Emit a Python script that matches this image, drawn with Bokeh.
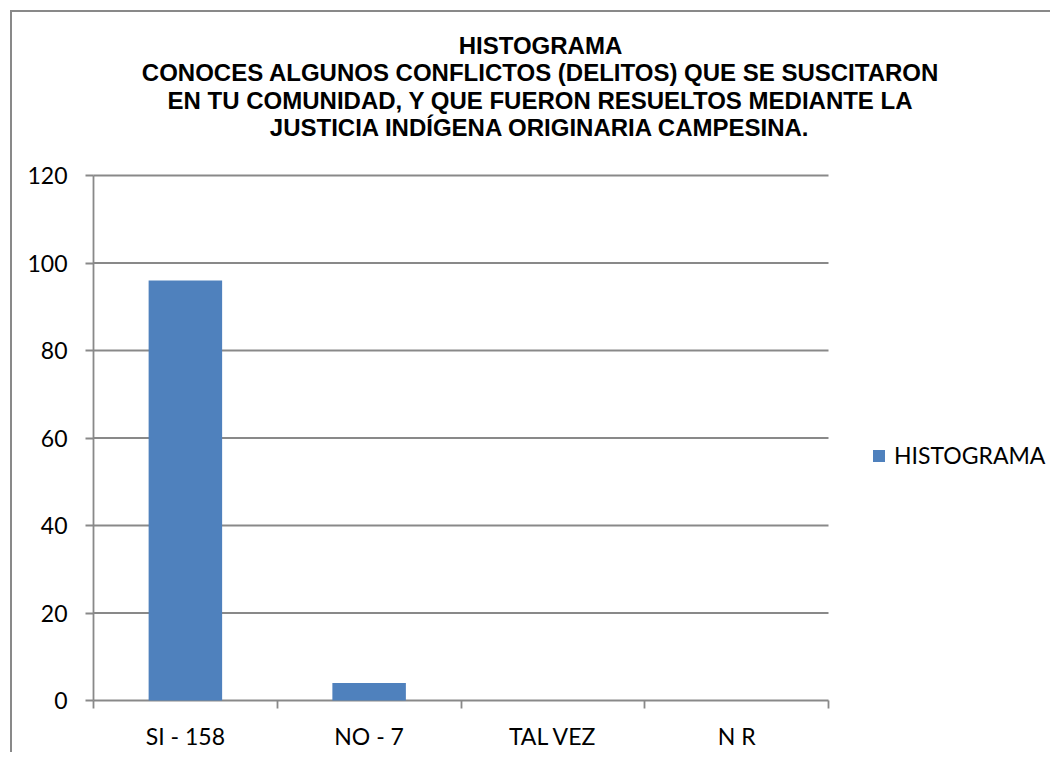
from bokeh.plotting import figure
from bokeh.models import (Range1d, FixedTicker, Legend, LegendItem, Label,
                          ColumnDataSource)
from bokeh.embed import file_html
from bokeh.resources import INLINE

# ---- data ----
categories = ["SI - 158", "NO - 7", "TAL VEZ", "N R"]
values = [96, 4, 0, 0]
series_name = "HISTOGRAMA"
y_ticks = [0, 20, 40, 60, 80, 100, 120]
title_lines = [
    "HISTOGRAMA",
    "CONOCES ALGUNOS CONFLICTOS (DELITOS) QUE SE SUSCITARON",
    "EN TU COMUNIDAD, Y QUE FUERON RESUELTOS MEDIANTE LA",
    "JUSTICIA INDÍGENA ORIGINARIA CAMPESINA.",
]

GRAY = "#898989"
BLUE = "#4F81BD"
LABEL_FONT = "Lato"
LABEL_PX = "23px"
TITLE_PX = "24px"
LW = 1.8

n = len(categories)
ymax = max(y_ticks)
centers = [i + 0.5 for i in range(n)]
source = ColumnDataSource(dict(x=centers, top=values, cat=categories))

# canvas geometry (pixels) -- plot area of the chart spans 93..828 x 175..700
W, H = 1050, 752
PA_L, PA_R, PA_T, PA_B = 93, 828, 175, 700
FL, FB = 88, 705                     # drawing frame (left, bottom)
ppx = (PA_R - PA_L) / n              # px per category
ppy = (PA_B - PA_T) / ymax           # px per unit
x0 = -(PA_L - FL) / ppx
y0 = -(FB - PA_B) / ppy
x1 = x0 + (W - FL) / ppx
y1 = y0 + FB / ppy

def xd(px):
    return x0 + (px - FL) / ppx

def yd(py):
    return y0 + (FB - py) / ppy

p = figure(width=W, height=H, output_backend="svg", toolbar_location=None,
           x_range=Range1d(x0, x1), y_range=Range1d(y0, y1),
           min_border_left=FL, min_border_right=0, min_border_top=0,
           min_border_bottom=H - FB)
p.outline_line_color = None
p.background_fill_color = None
p.border_fill_color = None
p.styles = {
    "background-color": "white",
    "background-image": "linear-gradient(#898989,#898989), linear-gradient(#898989,#898989)",
    "background-position": "10px 10px, 10px 10px",
    "background-size": "2px 3000px, 3000px 2px",
    "background-repeat": "no-repeat, no-repeat",
}

# horizontal grid lines (incl. the category axis line at 0) and value axis line
p.segment(x0=[0] * len(y_ticks), x1=[n] * len(y_ticks), y0=y_ticks, y1=y_ticks,
          line_color=GRAY, line_width=LW)
p.segment(x0=[0], x1=[0], y0=[0], y1=[ymax], line_color=GRAY, line_width=LW)

r = p.vbar(x="x", top="top", bottom=0, width=0.4, source=source,
           fill_color=BLUE, line_color=None)

# x axis: labels at category centres, ticks at category boundaries
xa = p.xaxis[0]
xa.ticker = FixedTicker(ticks=centers, minor_ticks=list(range(n + 1)))
xa.major_label_overrides = {c: lab for c, lab in zip(centers, categories)}
xa.axis_line_color = None
xa.major_tick_line_color = None
xa.major_tick_out = 3
xa.major_tick_in = 0
xa.minor_tick_in = FB - PA_B
xa.minor_tick_out = 8 - (FB - PA_B)
xa.minor_tick_line_color = GRAY
xa.minor_tick_line_width = LW
xa.major_label_text_font = LABEL_FONT
xa.major_label_text_font_size = LABEL_PX
xa.major_label_text_color = "black"
xa.major_label_standoff = 13

ya = p.yaxis[0]
ya.ticker = FixedTicker(ticks=y_ticks)
ya.axis_line_color = None
ya.major_tick_in = PA_L - FL
ya.major_tick_out = 8 - (PA_L - FL)
ya.minor_tick_line_color = None
ya.major_tick_line_color = GRAY
ya.major_tick_line_width = LW
ya.major_label_text_font = LABEL_FONT
ya.major_label_text_font_size = LABEL_PX
ya.major_label_text_color = "black"
ya.major_label_standoff = 18

p.xgrid.grid_line_color = None
p.ygrid.grid_line_color = None

# title, centred over the chart area
baselines = [45, 72, 100, 127]
for txt, b in zip(title_lines, baselines):
    p.add_layout(Label(x=xd(540), y=yd(b), text=txt, text_align="center",
                       text_baseline="alphabetic", text_font="Liberation Sans",
                       text_font_style="bold", text_font_size=TITLE_PX,
                       text_color="black"))

legend = Legend(items=[LegendItem(label=series_name, renderers=[r])],
                location=(871 - FL, FB - 469), orientation="vertical",
                glyph_width=15, glyph_height=15, label_standoff=8,
                padding=0, margin=0, spacing=0,
                label_text_font=LABEL_FONT, label_text_font_size=LABEL_PX,
                label_text_color="black", border_line_color=None,
                background_fill_alpha=0)
p.add_layout(legend, "center")

open("out.html", "w").write(file_html(p, INLINE))
